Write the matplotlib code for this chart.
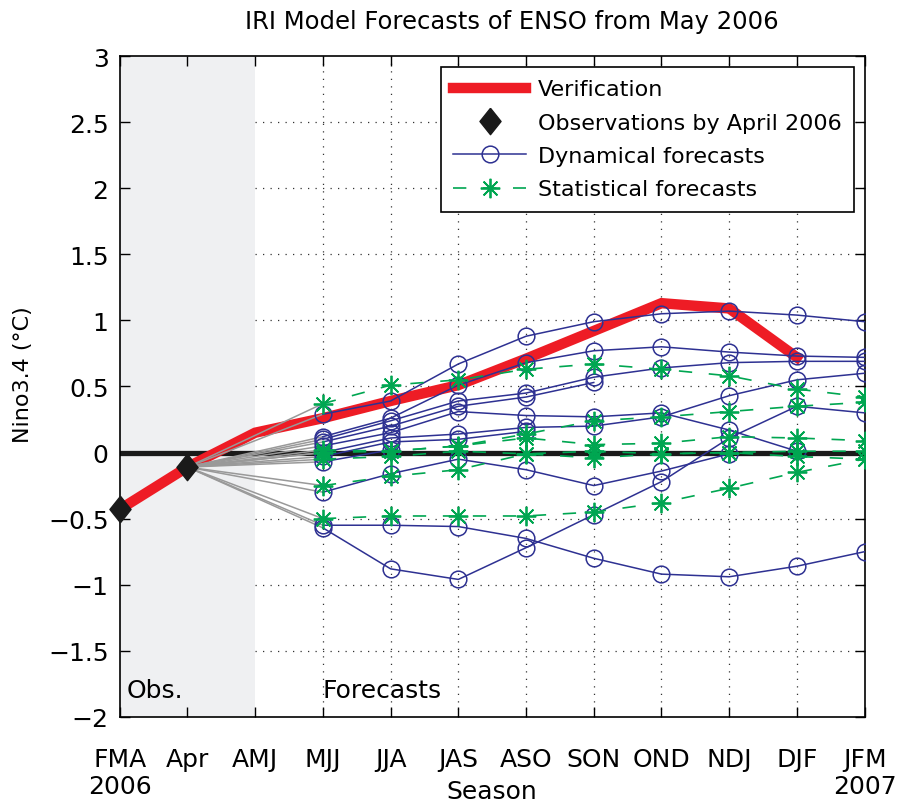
import matplotlib.pyplot as plt
from matplotlib.ticker import FuncFormatter
import numpy as np

plt.rcParams['font.family'] = ['DejaVu Sans']

seasons = ['FMA\n2006', 'Apr', 'AMJ', 'MJJ', 'JJA', 'JAS', 'ASO', 'SON',
           'OND', 'NDJ', 'DJF', 'JFM\n2007']

# observed / verification values (FMA .. DJF)
verification = [-0.43, -0.11, 0.15, 0.26, 0.39, 0.51, 0.71, 0.92, 1.13, 1.09, 0.72]
observations = [-0.43, -0.11]   # FMA, Apr

# forecasts start at MJJ (index 3); None = model stops
dynamical = [
    [0.29, 0.39, 0.67, 0.88, 0.99, 1.05, 1.07, 1.04, 0.99],
    [0.12, 0.26, 0.51, 0.68, 0.77, 0.80, 0.76, 0.73, 0.72],
    [0.10, 0.24, 0.39, 0.45, 0.57, 0.64, 0.68, 0.69, 0.69],
    [0.08, 0.20, 0.35, 0.42, 0.53, None, None, None, None],
    [0.05, 0.15, 0.31, 0.28, 0.27, 0.30, 0.17, 0.01, None],
    [0.00, 0.11, 0.14, 0.19, 0.20, 0.27, 0.43, 0.55, 0.60],
    [-0.03, 0.08, 0.10, 0.16, None, None, None, None, None],
    [-0.07, 0.02, None, None, None, None, None, None, None],
    [-0.30, -0.16, -0.05, -0.13, -0.25, -0.14, -0.01, None, None],
    [-0.55, -0.55, -0.56, -0.65, -0.80, -0.92, -0.94, -0.86, -0.75],
    [-0.57, -0.88, -0.96, -0.72, -0.47, -0.22, 0.11, 0.35, 0.30],
]

statistical = [
    [0.37, 0.51, 0.55, 0.63, 0.67, 0.63, 0.58, 0.48, 0.42],
    [0.02, 0.01, 0.05, 0.14, 0.24, 0.27, 0.31, 0.35, 0.38],
    [0.00, 0.01, 0.05, 0.11, 0.06, 0.07, 0.12, 0.11, 0.09],
    [-0.05, -0.03, 0.01, -0.01, 0.01, -0.01, 0.00, 0.01, 0.01],
    [-0.25, -0.18, -0.13, -0.01, -0.04, -0.01, 0.00, -0.03, -0.05],
    [-0.50, -0.48, -0.48, -0.48, -0.45, -0.38, -0.27, -0.15, -0.05],
]

red = '#ee1c25'
blue = '#2e3192'
green = '#00a651'
asterisk = (8, 2, 0)
diamond = [(0, 1), (0.8, 0), (0, -1), (-0.8, 0), (0, 1)]

fig = plt.figure(figsize=(9.14, 8.03), dpi=100)
ax = fig.add_axes([0.131, 0.106, 0.815, 0.823])

x_all = np.arange(len(seasons))
x_fc = x_all[3:]

# shaded observation period + dotted grid over the forecast period
ax.axvspan(0, 2, color='#eff0f2', zorder=1, lw=0)
grid_style = dict(ls=(0, (1, 5)), color='#333333', lw=0.9, zorder=0.5)
for xv in x_all[3:-1]:
    ax.axvline(xv, **grid_style)
for yv in np.arange(-1.5, 2.6, 0.5):
    ax.axhline(yv, **grid_style)
ax.axhline(0, color='#1a1a1a', lw=3.8, zorder=2)

ax.plot(x_all[:len(verification)], verification, color=red, lw=7.5,
        solid_joinstyle='miter', zorder=3, label='Verification')

# gray links from last observation to first forecast value
for track in dynamical + statistical:
    ax.plot([1, 3], [observations[1], track[0]], color='#999999', lw=1.1, zorder=3.5)

for i, track in enumerate(dynamical):
    vals = np.array([np.nan if v is None else v for v in track])
    ax.plot(x_fc, vals, color=blue, lw=1.1, marker='o', ms=12,
            mfc='none', mec=blue, mew=1.1, zorder=4,
            label='Dynamical forecasts' if i == 0 else None)

for i, track in enumerate(statistical):
    ax.plot(x_fc, track, color=green, lw=1.2, dashes=(8, 10), marker=asterisk,
            ms=14, mec=green, mew=1.3, zorder=5,
            label='Statistical forecasts' if i == 0 else None)

ax.plot([0, 1], observations, ls='none', marker=diamond, ms=19, color='#1a1a1a',
        zorder=6, clip_on=False, label='Observations by April 2006')

ax.set_xlim(0, 11)
ax.set_ylim(-2, 3)
ax.set_xticks(x_all)
ax.set_xticklabels(seasons, fontsize=18, linespacing=1.15)
ax.set_yticks(np.arange(-2, 3.01, 0.5))
ax.yaxis.set_major_formatter(FuncFormatter(lambda v, p: ('%g' % v).replace('-', '\u2212')))
ax.tick_params(axis='y', labelsize=18, pad=8)
ax.tick_params(direction='in', length=7, top=True, right=True, width=1)
ax.tick_params(axis='x', pad=22)
for s in ax.spines.values():
    s.set_linewidth(1.2)

ax.set_ylabel('Nino3.4 (\u00b0C)', fontsize=16)
ax.yaxis.set_label_coords(-0.116, 0.52)
ax.text(0.5, -0.112, 'Season', transform=ax.transAxes, ha='center', va='center', fontsize=18)
ax.set_title('IRI Model Forecasts of ENSO from May 2006', fontsize=17.5, pad=20, x=0.527)

ax.text(0.1, -1.8, 'Obs.', fontsize=18, va='center', zorder=7)
ax.text(3.0, -1.8, 'Forecasts', fontsize=18, va='center', zorder=7)

handles, labels = ax.get_legend_handles_labels()
order = [labels.index(l) for l in ['Verification', 'Observations by April 2006',
                                    'Dynamical forecasts', 'Statistical forecasts']]
leg = ax.legend([handles[i] for i in order], [labels[i] for i in order],
                loc='upper right', bbox_to_anchor=(1, 1), borderaxespad=0.5,
                fontsize=16, fancybox=False, edgecolor='black', framealpha=1,
                handlelength=3.3, labelspacing=0.6, borderpad=0.55, handletextpad=0.5)
leg.get_frame().set_linewidth(1.2)
leg.set_zorder(10)

fig.savefig('out.png', dpi=100)
